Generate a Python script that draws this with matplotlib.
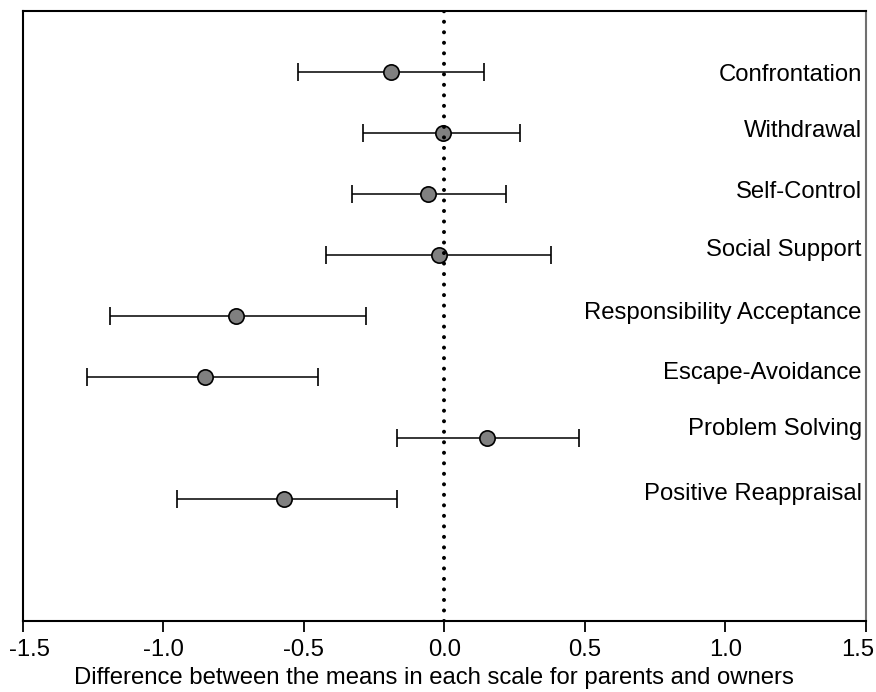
import matplotlib
matplotlib.use("Agg")
import matplotlib.pyplot as plt
from matplotlib.transforms import ScaledTranslation

plt.rcParams["font.family"] = ["Liberation Sans", "DejaVu Sans"]

scales = ["Confrontation", "Withdrawal", "Self-Control", "Social Support",
          "Responsibility Acceptance", "Escape-Avoidance", "Problem Solving",
          "Positive Reappraisal"]
means = [-0.19, -0.005, -0.06, -0.02, -0.74, -0.85, 0.15, -0.57]
lower = [-0.52, -0.29, -0.33, -0.42, -1.19, -1.27, -0.17, -0.95]
upper = [0.14, 0.27, 0.22, 0.38, -0.28, -0.45, 0.48, -0.17]
rows = [9, 8, 7, 6, 5, 4, 3, 2]
label_rows = [8.95, 8.04, 7.04, 6.09, 5.05, 4.07, 3.14, 2.09]
xticks = [-1.5, -1.0, -0.5, 0.0, 0.5, 1.0, 1.5]

fig = plt.figure(figsize=(8.76, 6.92), dpi=100)
ax = fig.add_axes([0.026, 0.1026, 0.9626, 0.8814])

err = [[m - lo for m, lo in zip(means, lower)],
       [hi - m for m, hi in zip(means, upper)]]
ax.errorbar(means, rows, xerr=err, fmt="o", color="black", ecolor="black",
            elinewidth=1.1, capsize=6.8, capthick=1.1,
            markersize=11, markerfacecolor="#808080",
            markeredgecolor="black", markeredgewidth=1.2, zorder=3)

# dotted zero line, drawn over the markers
ax.axvline(0, color="black", linewidth=2.9, linestyle=(0, (0.01, 2.6)),
           dash_capstyle="round", zorder=4)

for name, y in zip(scales, label_rows):
    ax.text(1.485, y, name, ha="right", va="center", fontsize=17.2)

ax.set_xlim(-1.5, 1.5)
ax.set_ylim(0, 10)
ax.set_xticks(xticks)
ax.set_xticklabels([f"{t:.1f}" for t in xticks], fontsize=17.2)
ax.set_yticks([])
ax.tick_params(axis="x", direction="out", length=8, width=1.3, pad=5)

# edge tick labels are pushed inwards so they stay on the canvas
labels = ax.get_xticklabels()
labels[0].set_transform(labels[0].get_transform() + ScaledTranslation(0.065, 0, fig.dpi_scale_trans))
labels[-1].set_transform(labels[-1].get_transform() + ScaledTranslation(-0.08, 0, fig.dpi_scale_trans))

ax.set_xlabel("Difference between the means in each scale for parents and owners",
              fontsize=17.2, labelpad=5)
ax.xaxis.set_label_coords(0.4875, -0.075)
for s in ["left", "top", "bottom"]:
    ax.spines[s].set_linewidth(1.5)
ax.spines["right"].set_color("#707070")
ax.spines["right"].set_linewidth(1.5)

fig.savefig("out.png", dpi=100)
